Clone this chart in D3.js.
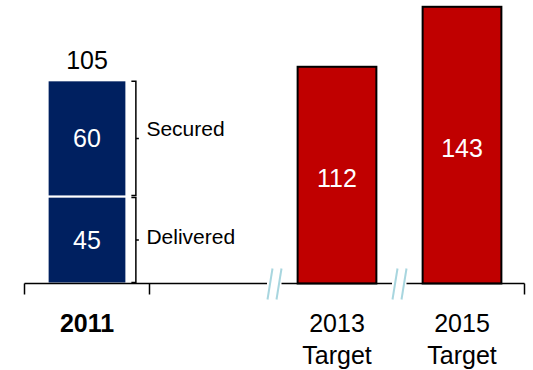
<!DOCTYPE html>
<html>
<head>
<meta charset="utf-8">
<script src="https://cdn.jsdelivr.net/npm/d3@7"></script>
<style>
  html, body { margin: 0; padding: 0; background: #fff; }
  svg { display: block; font-family: Arial, "Liberation Sans", sans-serif; }
</style>
</head>
<body>
<svg id="chart" width="533" height="370"></svg>
<script>
// Category slots along the axis ("" is an empty spacer slot)
const slots = ["2011", "", "2013", "2015"];

// 2011 stacked bar segments (bottom to top)
const segmentNames = ["Delivered", "Secured"];
const segmentValues = [45, 60];

// Target bars
const targetYears = ["2013", "2015"];
const targetValues = [112, 143];

// Axis labels, one array of lines per category
const categoryLabels = [["2011"], ["2013", "Target"], ["2015", "Target"]];
const labelSlots = ["2011", "2013", "2015"];

const BLUE = "#002060";
const RED = "#C00000";
const BREAK = "#a8d6df";

const svg = d3.select("#chart");
const baseY = 283.5;

const x = d3.scaleBand()
  .domain(slots)
  .range([24.5, 524.5])
  .paddingInner(0.37)
  .paddingOuter(0.185);

const y = d3.scaleLinear()
  .domain([0, 143])
  .range([baseY, baseY - 143 * 1.935]);

// 2011 stacked bar
const stacked = [];
let acc = 0;
segmentValues.forEach((v, i) => {
  stacked.push({ name: segmentNames[i], v0: acc, v1: acc + v, value: v });
  acc += v;
});
const total = acc;

const g2011 = svg.append("g");
g2011.selectAll("rect")
  .data(stacked)
  .join("rect")
  .attr("x", x("2011"))
  .attr("width", x.bandwidth())
  .attr("y", d => y(d.v1))
  .attr("height", d => y(d.v0) - y(d.v1))
  .attr("fill", BLUE)
  .attr("stroke", "#ffffff")
  .attr("stroke-width", 2);

g2011.selectAll("text.val")
  .data(stacked)
  .join("text")
  .attr("class", "val")
  .attr("x", x("2011") + x.bandwidth() / 2)
  .attr("y", d => (y(d.v0) + y(d.v1)) / 2 + 9)
  .attr("text-anchor", "middle")
  .attr("fill", "#ffffff")
  .attr("font-size", 25)
  .text(d => d.value);

// total above the stack
svg.append("text")
  .attr("x", x("2011") + x.bandwidth() / 2)
  .attr("y", y(total) - 11)
  .attr("text-anchor", "middle")
  .attr("fill", "#000")
  .attr("font-size", 25)
  .text(total);

// braces with segment names
const braceX = x("2011") + x.bandwidth() + 5;
stacked.forEach(d => {
  const top = y(d.v1) + 1, bot = y(d.v0) - 1, mid = (top + bot) / 2;
  const bx = braceX + 4.5;
  svg.append("path")
    .attr("d", `M${braceX},${top} L${bx},${top} L${bx},${bot} L${braceX},${bot} M${bx},${mid} L${bx + 3},${mid}`)
    .attr("fill", "none")
    .attr("stroke", "#000")
    .attr("stroke-width", 1.5);
  svg.append("text")
    .attr("x", bx + 10.5)
    .attr("y", mid + (d.name === "Secured" ? -2 : 4))
    .attr("font-size", 21)
    .attr("fill", "#000")
    .text(d.name);
});

// target bars
const targets = targetYears.map((k, i) => ({ key: k, value: targetValues[i] }));
svg.selectAll("rect.target")
  .data(targets)
  .join("rect")
  .attr("class", "target")
  .attr("x", d => x(d.key))
  .attr("width", d => x.bandwidth())
  .attr("y", d => y(d.value))
  .attr("height", d => baseY - y(d.value))
  .attr("fill", RED)
  .attr("stroke", "#000")
  .attr("stroke-width", 2);

svg.selectAll("text.tval")
  .data(targets)
  .join("text")
  .attr("class", "tval")
  .attr("x", d => x(d.key) + x.bandwidth() / 2)
  .attr("y", d => (y(d.value) + baseY) / 2 + 12)
  .attr("text-anchor", "middle")
  .attr("fill", "#ffffff")
  .attr("font-size", 25)
  .text(d => d.value);

// baseline axis
const x0 = x.range()[0], x1 = x.range()[1];
svg.append("line")
  .attr("x1", x0).attr("x2", x1)
  .attr("y1", baseY).attr("y2", baseY)
  .attr("stroke", "#000").attr("stroke-width", 1.5);

// tick marks: both edges of the 2011 slot and the right end
const tickXs = [x0, x("2011") - x.step() * x.paddingInner() / 2 + x.step(), x1];
svg.selectAll("line.tick")
  .data(tickXs)
  .join("line")
  .attr("class", "tick")
  .attr("x1", d => d).attr("x2", d => d)
  .attr("y1", baseY).attr("y2", baseY + 11)
  .attr("stroke", "#000").attr("stroke-width", 1.5);

// axis breaks before each target slot
const breakXs = targetYears.map(k => x(k) - x.step() * x.paddingInner() / 2);
breakXs.forEach(bx => {
  svg.append("rect")
    .attr("x", bx - 7.5).attr("y", baseY - 2)
    .attr("width", 14.5).attr("height", 4)
    .attr("fill", "#fff");
  [-4.5, 4.5].forEach(off => {
    svg.append("line")
      .attr("x1", bx + off - 2.5).attr("y1", baseY + 16)
      .attr("x2", bx + off + 2.5).attr("y2", baseY - 15)
      .attr("stroke", BREAK).attr("stroke-width", 2);
  });
});

// category labels
labelSlots.forEach((k, i) => {
  const t = svg.append("text")
    .attr("x", x(k) + x.bandwidth() / 2)
    .attr("y", 331.5)
    .attr("text-anchor", "middle")
    .attr("font-size", 25)
    .attr("font-weight", k === "2011" ? "bold" : "normal")
    .attr("fill", "#000");
  categoryLabels[i].forEach((line, j) => {
    t.append("tspan")
      .attr("x", x(k) + x.bandwidth() / 2)
      .attr("dy", j === 0 ? 0 : 32)
      .text(line);
  });
});
</script>
</body>
</html>
